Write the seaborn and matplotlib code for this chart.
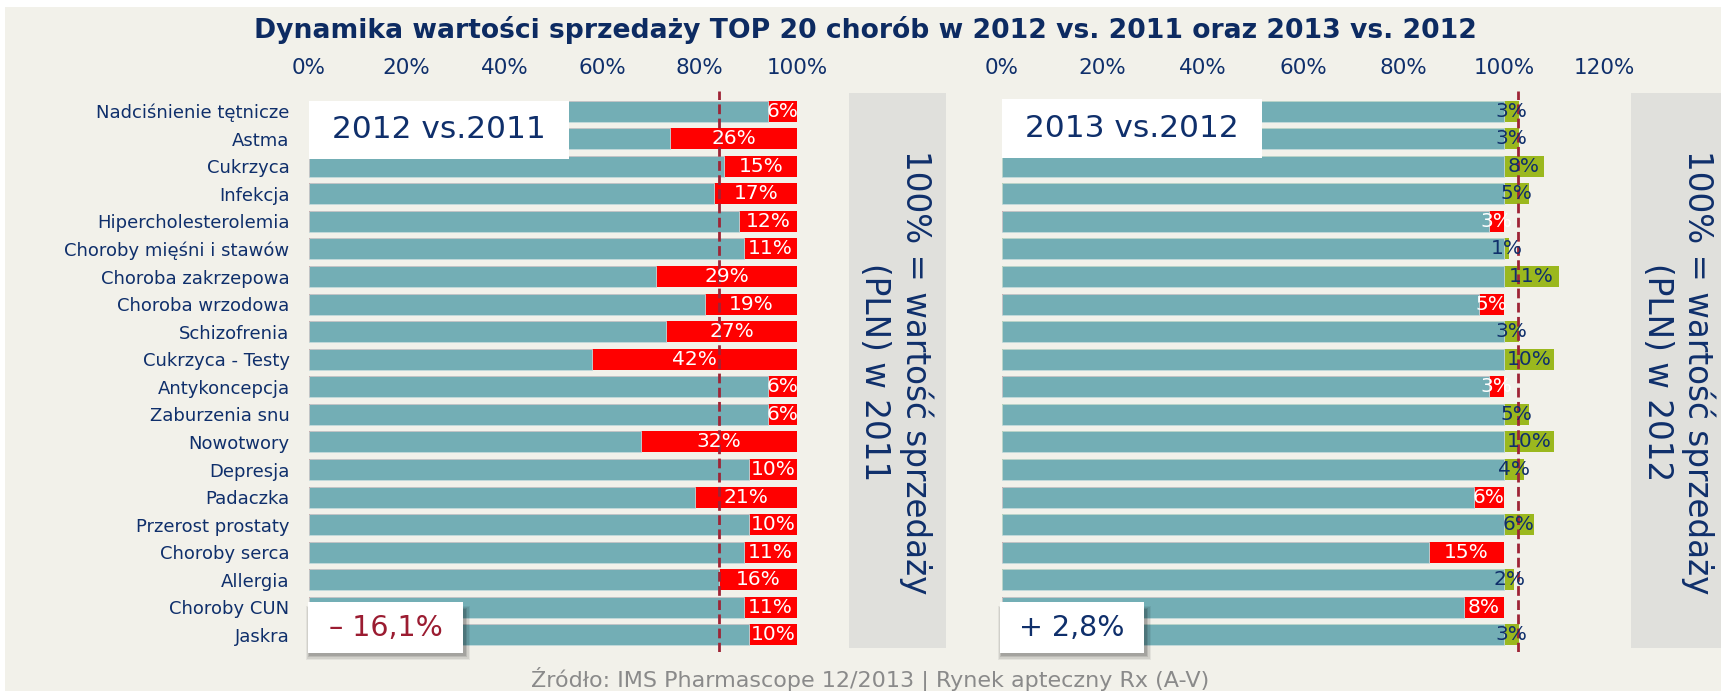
import numpy as np
import pandas as pd
import matplotlib
matplotlib.use("Agg")
import matplotlib.pyplot as plt
from matplotlib.patches import Rectangle
import seaborn as sns

# ---------------- data ----------------
categories = ["Nadciśnienie tętnicze", "Astma", "Cukrzyca", "Infekcja", "Hipercholesterolemia",
              "Choroby mięśni i stawów", "Choroba zakrzepowa", "Choroba wrzodowa", "Schizofrenia",
              "Cukrzyca - Testy", "Antykoncepcja", "Zaburzenia snu", "Nowotwory", "Depresja",
              "Padaczka", "Przerost prostaty", "Choroby serca", "Allergia", "Choroby CUN", "Jaskra"]
change_2012 = [-6, -26, -15, -17, -12, -11, -29, -19, -27, -42, -6, -6, -32, -10, -21, -10, -11, -16, -11, -10]
change_2013 = [3, 3, 8, 5, -3, 1, 11, -5, 3, 10, -3, 5, 10, 4, -6, 6, -15, 2, -8, 3]
total_2012 = -16.1
total_2013 = 2.8
left_ticks = [0, 20, 40, 60, 80, 100]
right_ticks = [0, 20, 40, 60, 80, 100, 120]
title = "Dynamika wartości sprzedaży TOP 20 chorób w 2012 vs. 2011 oraz 2013 vs. 2012"
source = "Źródło: IMS Pharmascope 12/2013 | Rynek apteczny Rx (A-V)"

# ---------------- style ----------------
W, H = 1721, 691
NAVY = "#0f2f6b"
TEAL = "#73aeb5"
RED = "#ff0000"
GREEN = "#9bb81e"
DASH = "#9e2436"
BG = "#f2f1ea"
GRAYBOX = "#e0e0dc"

sns.set_theme(style="white")
plt.rcParams["font.family"] = ["DejaVu Sans"]

fig = plt.figure(figsize=(W / 100, H / 100), dpi=100, facecolor="white")

def fx(x):
    return x / W

def fy(y):
    return 1 - y / H

def frect(x0, y0, x1, y1, **kw):
    r = Rectangle((fx(x0), fy(y1)), fx(x1) - fx(x0), fy(y0) - fy(y1),
                  transform=fig.transFigure, **kw)
    fig.add_artist(r)
    return r

# background
frect(5, 7, W, H, facecolor=BG, edgecolor="none", zorder=-5)
# gray side boxes
frect(849, 93, 946, 648, facecolor=GRAYBOX, edgecolor="none", zorder=-4)
frect(1631, 93, W + 5, 648, facecolor=GRAYBOX, edgecolor="none", zorder=-4)

ax_top, ax_bot = 91, 652
axL = fig.add_axes([fx(309), fy(ax_bot), fx(797.4) - fx(309), (ax_bot - ax_top) / H])
axR = fig.add_axes([fx(1002), fy(ax_bot), fx(1604.4) - fx(1002), (ax_bot - ax_top) / H])

df = pd.DataFrame({"cat": categories,
                   "c12": np.array(change_2012) / 100.0,
                   "c13": np.array(change_2013) / 100.0})

bar_w = 0.76

# ---- left panel ----
df["seg12"] = 1.0
df["base12"] = 1.0 + df["c12"]
sns.barplot(data=df, x="seg12", y="cat", orient="h", color=RED, saturation=1,
            width=bar_w, ax=axL, linewidth=0)
sns.barplot(data=df, x="base12", y="cat", orient="h", color=TEAL, saturation=1,
            width=bar_w, ax=axL, edgecolor="#c3dadc", linewidth=0.6)
for i, v in enumerate(df["c12"]):
    axL.text(1.0 + v / 2, i, f"{abs(round(v * 100))}%", color="white",
             ha="center", va="center", fontsize=14.5, zorder=6)

# ---- right panel ----
df["seg13"] = np.where(df["c13"] > 0, 1.0 + df["c13"], 1.0)
df["base13"] = np.minimum(1.0, 1.0 + df["c13"])
seg_colors = [GREEN if v > 0 else RED for v in df["c13"]]
sns.barplot(data=df, x="seg13", y="cat", hue="cat", palette=seg_colors, legend=False,
            orient="h", saturation=1, width=bar_w, ax=axR, linewidth=0)
sns.barplot(data=df, x="base13", y="cat", orient="h", color=TEAL, saturation=1,
            width=bar_w, ax=axR, edgecolor="#c3dadc", linewidth=0.6)
for i, v in enumerate(df["c13"]):
    if v > 0:
        axR.text(1.0 + v / 2, i, f"{round(v * 100)}%", color=NAVY,
                 ha="center", va="center", fontsize=14.5, zorder=6)
    else:
        axR.text(1.0 + v / 2, i, f"{abs(round(v * 100))}%", color="white",
                 ha="center", va="center", fontsize=14.5, zorder=6)

# dashed totals
axL.axvline(1.0 + total_2012 / 100, color=DASH, lw=2, ls=(0, (3.5, 1.6)), zorder=5)
axR.axvline(1.0 + total_2013 / 100, color=DASH, lw=2, ls=(0, (3.5, 1.6)), zorder=5)

# axes formatting
for ax, ticks, lim in [(axL, left_ticks, (0, 1.0)), (axR, right_ticks, (0, 1.2))]:
    ax.set_facecolor("none")
    ax.set_xlim(*lim)
    ax.set_ylim(19.62, -0.73)
    ax.set_xticks([t / 100 for t in ticks])
    ax.set_xticklabels([f"{t}%" for t in ticks])
    ax.xaxis.tick_top()
    ax.tick_params(axis="x", length=0, pad=9, labelsize=15.5, labelcolor=NAVY)
    ax.set_xlabel("")
    ax.set_ylabel("")
    for s in ax.spines.values():
        s.set_visible(False)
    ax.grid(False)

axL.tick_params(axis="y", length=0, pad=14, labelsize=13, labelcolor=NAVY)
axR.set_yticks([])

# title & source
fig.text(fx(865), fy(30), title, ha="center", va="center", fontsize=19.2,
         fontweight="bold", color="#0d2b62")
fig.text(fx(870), fy(667), source, ha="center", va="top", fontsize=16, color="#8a8a8a")

# vertical texts in gray boxes
for xc1, xc2, yr in [(916.5, 874.5, "2011"), (1698.5, 1657.5, "2012")]:
    fig.text(fx(xc1), fy(372), "100% = wartość sprzedaży", rotation=270, ha="center",
             va="center", fontsize=23.5, color=NAVY, zorder=3)
    fig.text(fx(xc2), fy(372), f"(PLN) w {yr}", rotation=270, ha="center",
             va="center", fontsize=23.5, color=NAVY, zorder=3)

# inset label boxes
frect(309, 101, 569, 159, facecolor="white", edgecolor="none", zorder=7)
fig.text(fx(439), fy(130), "2012 vs.2011", ha="center", va="center", fontsize=22.5,
         color=NAVY, zorder=8)
frect(1002, 99, 1262, 158, facecolor="white", edgecolor="none", zorder=7)
fig.text(fx(1132), fy(128.5), "2013 vs.2012", ha="center", va="center", fontsize=22.5,
         color=NAVY, zorder=8)

for (x0, x1, txt, col) in [(308, 463, "– 16,1%", "#9b1c31"), (1000, 1144, "+ 2,8%", NAVY)]:
    for k, a in enumerate([0.06, 0.08, 0.10, 0.12]):
        d = 7 - k * 1.5
        frect(x0 - 2 + k, 606 + k, x1 + d, 653 + d, facecolor="#000000", alpha=a,
              edgecolor="none", zorder=6.5)
    frect(x0, 602, x1, 653, facecolor="white", edgecolor="none", zorder=7)
    fig.text(fx((x0 + x1) / 2), fy(628), txt, ha="center", va="center", fontsize=20.5,
             color=col, zorder=8)

fig.savefig("out.png", dpi=100, facecolor=fig.get_facecolor())
